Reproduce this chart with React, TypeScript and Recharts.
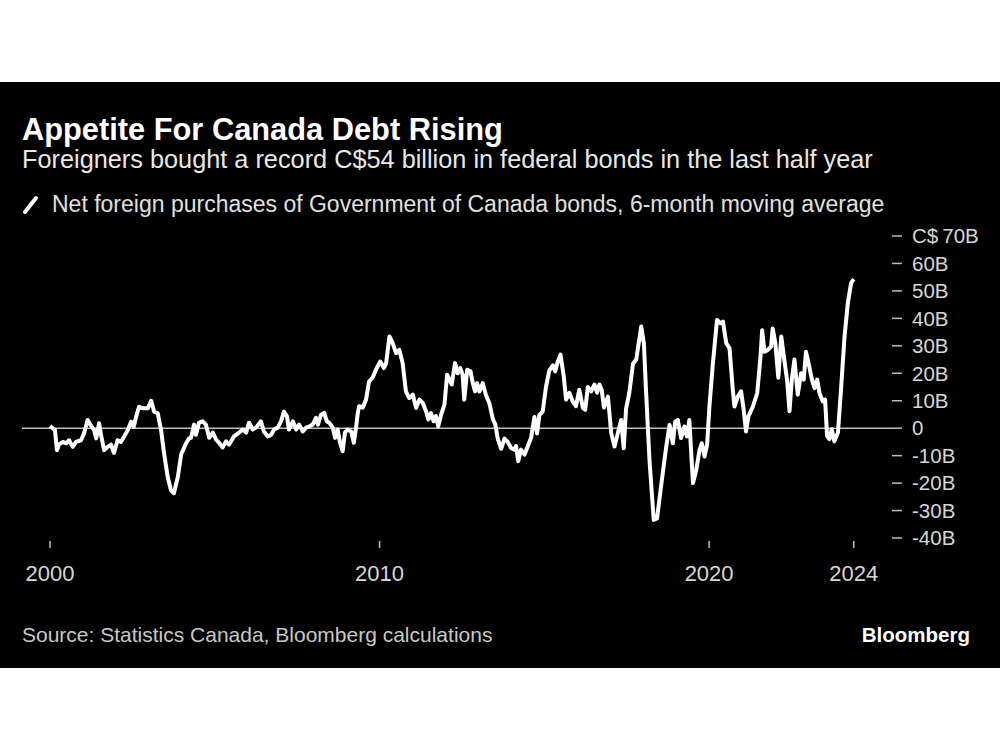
import React from "react";
import { LineChart, Line, XAxis, YAxis, ReferenceLine } from "recharts";

// Decimal-year dates of the samples
const dates = [
  2000.0, 2000.08, 2000.15, 2000.21, 2000.27, 2000.39, 2000.49, 2000.58, 2000.69, 2000.79, 2000.94,
  2001.03, 2001.14, 2001.24, 2001.34, 2001.4, 2001.49, 2001.55, 2001.64, 2001.75, 2001.85, 2001.94,
  2002.05, 2002.15, 2002.25, 2002.36, 2002.46, 2002.54, 2002.61, 2002.7, 2002.81, 2002.97,
  2003.07, 2003.16, 2003.27, 2003.37, 2003.46, 2003.57, 2003.67, 2003.76, 2003.88, 2003.98,
  2004.13, 2004.22, 2004.28, 2004.37, 2004.43, 2004.52, 2004.63, 2004.73, 2004.83, 2004.94,
  2005.04, 2005.13, 2005.24, 2005.34, 2005.43, 2005.58, 2005.74, 2005.85, 2005.95,
  2006.04, 2006.15, 2006.25, 2006.4, 2006.49, 2006.61, 2006.71, 2006.8, 2006.91,
  2007.01, 2007.1, 2007.19, 2007.25, 2007.37, 2007.47, 2007.56, 2007.67, 2007.77, 2007.86, 2007.97,
  2008.07, 2008.13, 2008.22, 2008.32, 2008.4, 2008.47, 2008.58, 2008.65, 2008.73, 2008.8, 2008.88, 2008.95,
  2009.03, 2009.14, 2009.22, 2009.29, 2009.34, 2009.38, 2009.49, 2009.59, 2009.68, 2009.79, 2009.89,
  2010.02, 2010.13, 2010.2, 2010.3, 2010.4, 2010.5, 2010.6, 2010.7, 2010.8, 2010.9,
  2011.01, 2011.11, 2011.21, 2011.31, 2011.41, 2011.48, 2011.56, 2011.64, 2011.71, 2011.78, 2011.87, 2011.97,
  2012.05, 2012.12, 2012.19, 2012.29, 2012.37, 2012.45, 2012.52, 2012.57, 2012.66, 2012.76, 2012.83, 2012.9, 2012.96,
  2013.03, 2013.13, 2013.23, 2013.33, 2013.44, 2013.51, 2013.59, 2013.69, 2013.79, 2013.89, 2013.99,
  2014.09, 2014.14, 2014.21, 2014.29, 2014.4, 2014.5, 2014.6, 2014.7, 2014.78, 2014.85, 2014.95,
  2015.05, 2015.15, 2015.26, 2015.33, 2015.41, 2015.49, 2015.59, 2015.66, 2015.76, 2015.86, 2015.96,
  2016.06, 2016.17, 2016.24, 2016.32, 2016.42, 2016.52, 2016.6, 2016.67, 2016.74, 2016.81, 2016.93,
  2017.03, 2017.13, 2017.23, 2017.33, 2017.41, 2017.48, 2017.58, 2017.69, 2017.79, 2017.94,
  2018.02, 2018.09, 2018.19, 2018.32, 2018.42, 2018.54, 2018.7, 2018.8, 2018.9, 2018.97,
  2019.05, 2019.15, 2019.25, 2019.33, 2019.4, 2019.51, 2019.61, 2019.71, 2019.78, 2019.86, 2019.94,
  2020.01, 2020.11, 2020.24, 2020.34, 2020.42, 2020.52, 2020.62, 2020.72, 2020.77, 2020.87, 2020.97,
  2021.05, 2021.12, 2021.19, 2021.33, 2021.46, 2021.56, 2021.61, 2021.68, 2021.78, 2021.88, 2021.93,
  2022.01, 2022.1, 2022.19, 2022.27, 2022.37, 2022.44, 2022.51, 2022.59, 2022.69, 2022.79, 2022.87, 2022.94,
  2023.04, 2023.12, 2023.2, 2023.28, 2023.35, 2023.45, 2023.52, 2023.58, 2023.65, 2023.72, 2023.8, 2023.91,
  2024.01, 2024.11, 2024.21, 2024.31, 2024.39,
];

// Net foreign purchases, C$ billions, 6-month moving average
const values = [
  0.8, 0, -0.7, -8, -6, -5, -5.5, -4.4, -6.8, -5, -4.4,
  -2, 3, 1, -0.7, -3.7, 1.8, -2.5, -8, -6.8, -6, -9,
  -4.4, -5, -3, -0.7, 2.3, 0.5, 4, 7.8, 7.3, 7.3,
  10, 6, 5.4, -0.7, -9, -17.7, -22.6, -23.7, -17.7, -9.5,
  -5.5, -3.7, -3.5, 1.3, -2.4, 2, 2.5, 1.3, -3.5, -1.6,
  -4.2, -5.3, -7, -4.8, -6, -3, -1.6, -0.5, -1.6,
  2, -0.5, 0.2, 2.5, -1.2, -3, -2.4, -0.5, 0.2,
  2.5, 6, 4.3, -0.5, 2.5, -0.5, 1.3, -1.2, 0.2, 0.6, 1.3,
  3.8, 1.3, 4.8, 5.6, 2.5, 2, 0.2, -3.5, -0.5, -5.3, -8.4, -1.6,
  -0.5, -1.2, -5.3, 0.6, 5.5, 8, 7.5, 10.4, 17, 18.4, 21.3,
  24.3, 21.9, 23.7, 33.4, 31, 27.3, 28.5, 23.7, 13.4, 11,
  12.2, 7.4, 10.4, 9.2, 6.2, 3.2, 5.5, 2.5, 4.4, 0.7, 5, 8.6,
  19.5, 17.7, 15.9, 23.7, 20, 21.9, 19.5, 10.4, 21.3, 20.7, 16.4, 13.4, 16.4,
  13.4, 16.4, 12, 9.2, 3.2, 1.5, -4, -7.5, -3.8, -5, -7.2,
  -7.8, -6.5, -12, -7.8, -9.6, -6.5, -3.5, 4.1, -1.9, 4.8, 6,
  15, 21, 22.9, 20.7, 24.3, 26.8, 18.8, 10.4, 12.9, 9.8, 8,
  14, 7.4, 6.7, 15, 13.4, 15.9, 12.9, 15.9, 14, 7.5, 11.5,
  -1.8, -6.7, -1.8, 3, -7.3, 7, 13, 23.5, 25, 37,
  31, 12.7, -11.5, -33.4, -32.9, -21.3, -6.7, 1.2, -5.5, 2.4,
  3, -3.6, 0.6, -3, 3, -20, -15.2, -7.9, -5.5, -10.3, -6,
  8, 23, 39.4, 38.2, 38.8, 31, 29.1, 13.9, 7.9, 11.5, 13.4,
  6.7, -1.2, 4.2, 7.9, 12.8, 26, 35.7, 27.8, 28.5, 29.7, 36.3,
  31, 18.4, 33.4, 26, 17.1, 6.2, 17.7, 25, 12.2, 20, 17.7, 27.8,
  22.4, 17.7, 14.6, 17.7, 12.8, 9.7, 10.4, -2.8, -4, -0.4, -4.8, -1.6,
  15.4, 33.4, 45.6, 52.9, 54.3,
];

const yTicks = [-40, -30, -20, -10, 0, 10, 20, 30, 40, 50, 60, 70];
const xTickYears = [2000, 2010, 2020];
const lastDate = dates[dates.length - 1];
const xTicks = [...xTickYears, lastDate];

const data = dates.map((t, i) => ({ t, v: values[i] }));

const FONT = '"Liberation Sans", Arial, sans-serif';

const fmtY = (v: number) => (v === 0 ? "0" : v === 70 ? "C$\u200970B" : `${v}B`);

function XTick(props: any) {
  const { x, y, payload } = props;
  return (
    <g>
      <line x1={x} x2={x} y1={y + 3} y2={y + 10} stroke="#bdbdbd" strokeWidth={1.5} />
      <text x={x} y={y + 43} textAnchor="middle" fill="#d6d6d6" fontSize={22} fontFamily={FONT}>
        {Math.floor(payload.value)}
      </text>
    </g>
  );
}

export default function App() {
  return (
    <div style={{ position: "absolute", left: 0, top: 0, width: 1000, height: 750, background: "#fff" }}>
      <div style={{ position: "absolute", left: 0, top: 82, width: 1000, height: 586, background: "#000" }} />
      <div style={{ position: "absolute", left: 0, top: 0 }}>
        <LineChart width={1000} height={750} data={data} margin={{ top: 236, right: 0, left: 22, bottom: 152 }}>
          <ReferenceLine y={0} stroke="#bdbdbd" strokeWidth={1.5} />
          <XAxis
            dataKey="t"
            type="number"
            domain={[1999.15, 2025.55]}
            allowDataOverflow
            ticks={xTicks}
            interval={0}
            height={60}
            axisLine={false}
            tickLine={false}
            tickSize={0}
            tickMargin={0}
            tick={<XTick />}
          />
          <YAxis
            orientation="right"
            width={108}
            domain={[-40, 70]}
            ticks={yTicks}
            interval={0}
            axisLine={false}
            tickLine={{ stroke: "#bdbdbd", strokeWidth: 1.5 }}
            tickSize={10}
            tickMargin={10}
            tickFormatter={fmtY}
            tick={{ fill: "#d6d6d6", fontSize: 20.5, fontFamily: FONT }}
          />
          <Line
            type="linear"
            dataKey="v"
            stroke="#ffffff"
            strokeWidth={4}
            strokeLinejoin="round"
            dot={false}
            isAnimationActive={false}
          />
        </LineChart>
      </div>
      <svg
        width={1000}
        height={750}
        style={{ position: "absolute", left: 0, top: 0, pointerEvents: "none" }}
        fontFamily={FONT}
      >
        <text x={22} y={140} fill="#ffffff" fontSize={30.8} fontWeight="bold">
          Appetite For Canada Debt Rising
        </text>
        <text x={22} y={168} fill="#e8e8e8" fontSize={25.3}>
          Foreigners bought a record C$54 billion in federal bonds in the last half year
        </text>
        <line x1={25} y1={212} x2={36} y2={198} stroke="#ffffff" strokeWidth={4} strokeLinecap="round" />
        <text x={52} y={212} fill="#e0e0e0" fontSize={23}>
          Net foreign purchases of Government of Canada bonds, 6-month moving average
        </text>
        <text x={22} y={642} fill="#c8c8c8" fontSize={21}>
          Source: Statistics Canada, Bloomberg calculations
        </text>
        <text x={970} y={642} fill="#ffffff" fontSize={20.5} fontWeight="bold" textAnchor="end">
          Bloomberg
        </text>
      </svg>
    </div>
  );
}
